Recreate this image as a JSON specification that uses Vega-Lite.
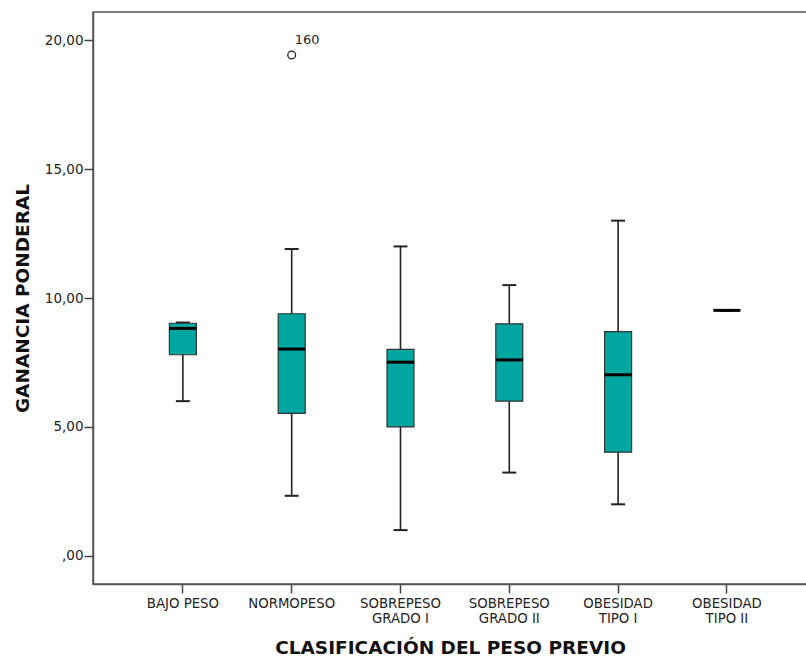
{
  "$schema": "https://vega.github.io/schema/vega-lite/v6.json",
  "width": 714,
  "height": 572,
  "autosize": {"type": "none"},
  "padding": {"left": 93, "top": 12, "right": 0, "bottom": 74},
  "background": "white",
  "config": {"view": {"stroke": "#555", "strokeWidth": 1.5}, "font": "DejaVu Sans"},
  "data": {
    "values": [
      {"cat": "BAJO PESO", "min": 6.0, "q1": 7.8, "median": 8.82, "q3": 9.02, "max": 9.05},
      {"cat": "NORMOPESO", "min": 2.33, "q1": 5.53, "median": 8.02, "q3": 9.39, "max": 11.9},
      {"cat": "SOBREPESO GRADO I", "min": 1.0, "q1": 5.0, "median": 7.51, "q3": 8.01, "max": 12.0},
      {"cat": "SOBREPESO GRADO II", "min": 3.23, "q1": 6.0, "median": 7.6, "q3": 9.0, "max": 10.5},
      {"cat": "OBESIDAD TIPO I", "min": 2.0, "q1": 4.02, "median": 7.02, "q3": 8.7, "max": 13.0},
      {"cat": "OBESIDAD TIPO II", "min": 9.52, "q1": 9.52, "median": 9.52, "q3": 9.52, "max": 9.52}
    ]
  },
  "encoding": {
    "x": {
      "field": "cat",
      "type": "nominal",
      "sort": ["BAJO PESO", "NORMOPESO", "SOBREPESO GRADO I", "SOBREPESO GRADO II", "OBESIDAD TIPO I", "OBESIDAD TIPO II"],
      "title": "CLASIFICACIÓN DEL PESO PREVIO",
      "scale": {"paddingInner": 0, "paddingOuter": 0.281, "align": 0.58},
      "axis": {
        "labelAngle": 0,
        "labelFontSize": 13.3,
        "labelColor": "#222",
        "labelPadding": 3,
        "labelLineHeight": 15,
        "labelExpr": "datum.label == 'BAJO PESO' || indexof(datum.label, ' ') < 0 ? datum.label : [slice(datum.label, 0, indexof(datum.label, ' ')), slice(datum.label, indexof(datum.label, ' ') + 1)]",
        "tickSize": 9,
        "tickColor": "#444",
        "tickWidth": 1.5,
        "domainColor": "#555",
        "domainWidth": 1.5,
        "titleFontSize": 18.5,
        "titleFontWeight": "bold",
        "titleColor": "#111",
        "titlePadding": 14
      }
    }
  },
  "layer": [
    {
      "mark": {"type": "rule", "color": "#222", "strokeWidth": 1.6},
      "encoding": {
        "y": {
          "field": "min",
          "type": "quantitative",
          "title": "GANANCIA PONDERAL",
          "scale": {"domain": [-1.09, 21.09], "nice": false, "zero": false},
          "axis": {
            "values": [0, 5, 10, 15, 20],
            "labelExpr": "datum.value == 0 ? ',00' : replace(format(datum.value, '.2f'), '.', ',')",
            "labelFontSize": 13.5,
            "labelColor": "#222",
            "labelPadding": 1,
            "tickSize": 9,
            "tickColor": "#444",
            "tickWidth": 1.5,
            "domainColor": "#555",
            "domainWidth": 1.5,
            "grid": false,
            "titleFontSize": 18.5,
            "titleFontWeight": "bold",
            "titleColor": "#111",
            "titlePadding": 12
          }
        },
        "y2": {"field": "max"}
      }
    },
    {
      "mark": {"type": "tick", "color": "#222", "opacity": 1, "size": 14, "thickness": 2},
      "encoding": {"y": {"field": "min", "type": "quantitative", "title": "GANANCIA PONDERAL"}}
    },
    {
      "mark": {"type": "tick", "color": "#222", "opacity": 1, "size": 14, "thickness": 2},
      "encoding": {"y": {"field": "max", "type": "quantitative", "title": "GANANCIA PONDERAL"}}
    },
    {
      "mark": {"type": "bar", "size": 27, "fill": "#00A6A0", "stroke": "#333", "strokeWidth": 1.2},
      "encoding": {
        "y": {"field": "q1", "type": "quantitative", "title": "GANANCIA PONDERAL"},
        "y2": {"field": "q3"}
      }
    },
    {
      "mark": {"type": "tick", "color": "#000", "opacity": 1, "size": 27, "thickness": 3},
      "encoding": {"y": {"field": "median", "type": "quantitative", "title": "GANANCIA PONDERAL"}}
    },
    {
      "data": {"values": [{"cat": "NORMOPESO", "value": 19.42, "label": "160"}]},
      "mark": {"type": "point", "shape": "circle", "filled": false, "opacity": 1, "size": 60, "stroke": "#222", "strokeWidth": 1.3},
      "encoding": {"y": {"field": "value", "type": "quantitative", "title": "GANANCIA PONDERAL"}}
    },
    {
      "data": {"values": [{"cat": "NORMOPESO", "value": 19.42, "label": "160"}]},
      "mark": {"type": "text", "align": "left", "baseline": "middle", "dx": 3, "dy": -15, "fontSize": 13, "color": "#222"},
      "encoding": {
        "y": {"field": "value", "type": "quantitative", "title": "GANANCIA PONDERAL"},
        "text": {"field": "label"}
      }
    }
  ]
}
